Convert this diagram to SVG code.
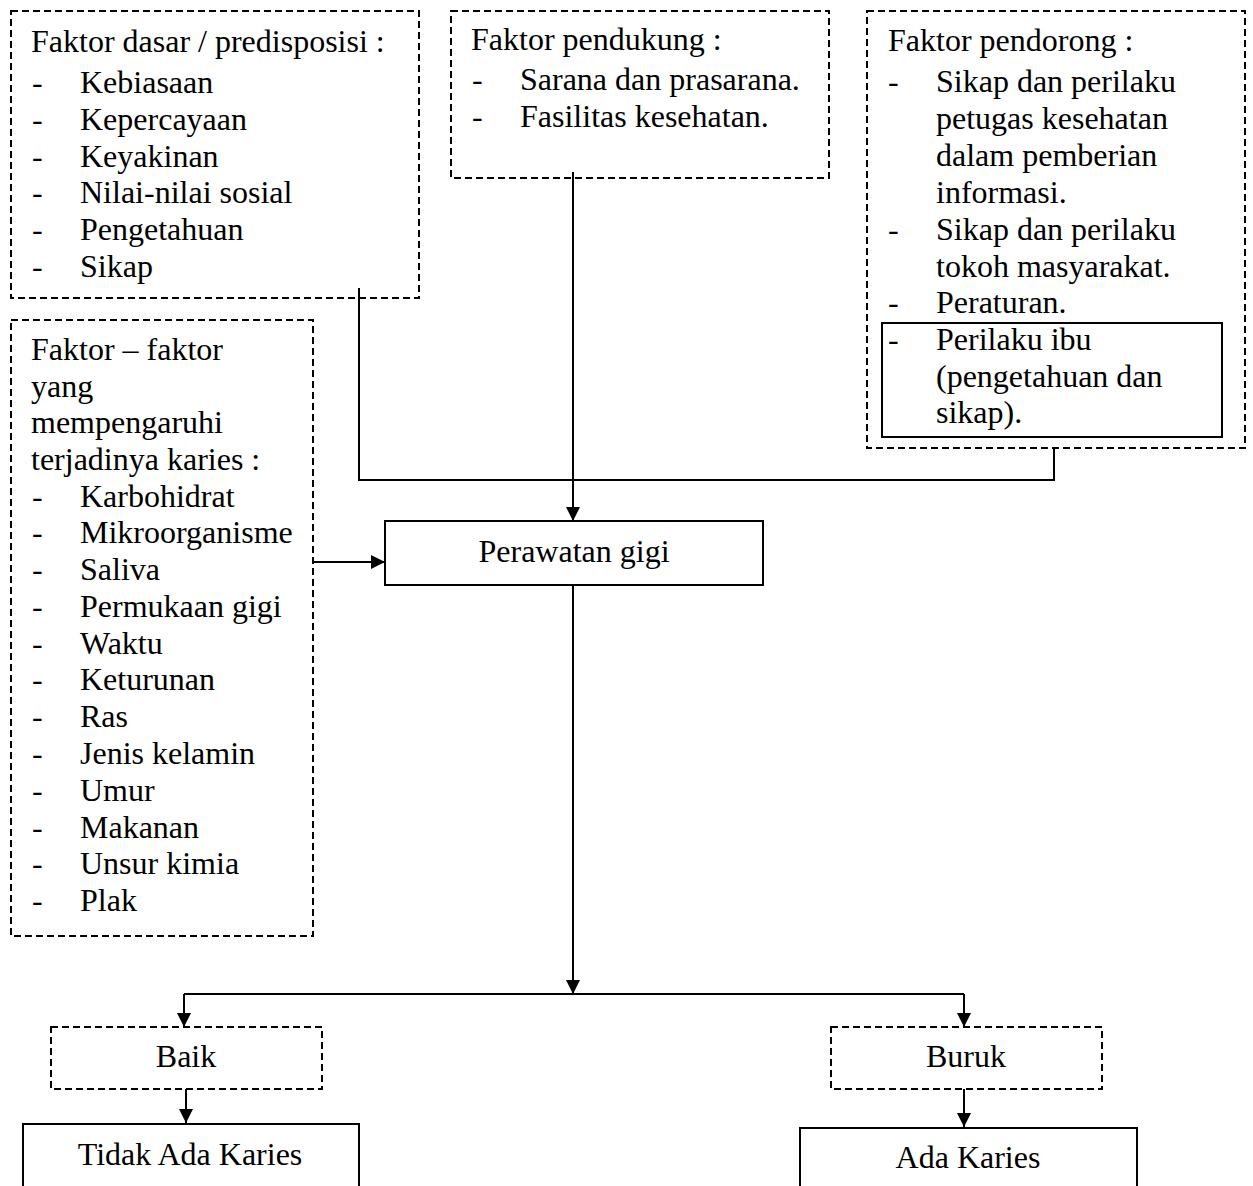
<svg xmlns="http://www.w3.org/2000/svg" width="1253" height="1186" viewBox="0 0 1253 1186">
<style>
text { font-family: "Liberation Serif", "Times New Roman", serif; font-size: 32px; fill: #000; }
.c { text-anchor: middle; }
.dbox { fill: none; stroke: #000; stroke-width: 2; stroke-dasharray: 7 4; }
.sbox { fill: none; stroke: #000; stroke-width: 2; }
.conn { fill: none; stroke: #000; stroke-width: 2; }
</style>
<defs>
<marker id="arr" markerUnits="userSpaceOnUse" markerWidth="14" markerHeight="14" refX="14" refY="7" orient="auto">
<path d="M0,0 L14,7 L0,14 Z" fill="#000"/>
</marker>
</defs>
<rect width="1253" height="1186" fill="#fff"/>

<g id="connectors">
<polyline class="conn" points="359,288 359,480 1054,480 1054,448"/>
<line class="conn" x1="573" y1="172" x2="573" y2="521" marker-end="url(#arr)"/>
<line class="conn" x1="313" y1="562" x2="385" y2="562" marker-end="url(#arr)"/>
<line class="conn" x1="573" y1="585" x2="573" y2="994" marker-end="url(#arr)"/>
<line class="conn" x1="184" y1="994" x2="964" y2="994"/>
<line class="conn" x1="184" y1="994" x2="184" y2="1027" marker-end="url(#arr)"/>
<line class="conn" x1="964" y1="994" x2="964" y2="1027" marker-end="url(#arr)"/>
<line class="conn" x1="186" y1="1089" x2="186" y2="1123" marker-end="url(#arr)"/>
<line class="conn" x1="964" y1="1089" x2="964" y2="1127" marker-end="url(#arr)"/>
</g>

<g id="faktor-dasar">
<rect class="dbox" x="11" y="11" width="408" height="287"/>
<text x="31" y="52">Faktor dasar / predisposisi :</text>
<text x="32" y="93">-</text><text x="80" y="93">Kebiasaan</text>
<text x="32" y="130">-</text><text x="80" y="130">Kepercayaan</text>
<text x="32" y="167">-</text><text x="80" y="167">Keyakinan</text>
<text x="32" y="203">-</text><text x="80" y="203">Nilai-nilai sosial</text>
<text x="32" y="240">-</text><text x="80" y="240">Pengetahuan</text>
<text x="32" y="277">-</text><text x="80" y="277">Sikap</text>
</g>

<g id="faktor-pendukung">
<rect class="dbox" x="451" y="11" width="378" height="167"/>
<text x="471" y="50">Faktor pendukung :</text>
<text x="472" y="90">-</text><text x="520" y="90">Sarana dan prasarana.</text>
<text x="472" y="127">-</text><text x="520" y="127">Fasilitas kesehatan.</text>
</g>

<g id="faktor-pendorong">
<rect class="dbox" x="867" y="11" width="378" height="437"/>
<text x="888" y="51">Faktor pendorong :</text>
<text x="888" y="92">-</text><text x="936" y="92">Sikap dan perilaku</text>
<text x="936" y="129">petugas kesehatan</text>
<text x="936" y="166">dalam pemberian</text>
<text x="936" y="203">informasi.</text>
<text x="888" y="240">-</text><text x="936" y="240">Sikap dan perilaku</text>
<text x="936" y="277">tokoh masyarakat.</text>
<text x="888" y="313">-</text><text x="936" y="313">Peraturan.</text>
<g id="perilaku-ibu">
<rect class="sbox" x="882" y="323" width="340" height="114"/>
<text x="888" y="350">-</text><text x="936" y="350">Perilaku ibu</text>
<text x="936" y="387">(pengetahuan dan</text>
<text x="936" y="423">sikap).</text>
</g>
</g>

<g id="faktor-karies">
<rect class="dbox" x="11" y="320" width="302" height="616"/>
<text x="31" y="360">Faktor – faktor</text>
<text x="31" y="397">yang</text>
<text x="31" y="433">mempengaruhi</text>
<text x="31" y="470">terjadinya karies :</text>
<text x="32" y="507">-</text><text x="80" y="507">Karbohidrat</text>
<text x="32" y="543">-</text><text x="80" y="543">Mikroorganisme</text>
<text x="32" y="580">-</text><text x="80" y="580">Saliva</text>
<text x="32" y="617">-</text><text x="80" y="617">Permukaan gigi</text>
<text x="32" y="654">-</text><text x="80" y="654">Waktu</text>
<text x="32" y="690">-</text><text x="80" y="690">Keturunan</text>
<text x="32" y="727">-</text><text x="80" y="727">Ras</text>
<text x="32" y="764">-</text><text x="80" y="764">Jenis kelamin</text>
<text x="32" y="801">-</text><text x="80" y="801">Umur</text>
<text x="32" y="838">-</text><text x="80" y="838">Makanan</text>
<text x="32" y="874">-</text><text x="80" y="874">Unsur kimia</text>
<text x="32" y="911">-</text><text x="80" y="911">Plak</text>
</g>

<g id="perawatan-gigi">
<rect class="sbox" x="385" y="521" width="378" height="64"/>
<text class="c" x="574" y="562">Perawatan gigi</text>
</g>

<g id="baik">
<rect class="dbox" x="51" y="1027" width="271" height="62"/>
<text class="c" x="186" y="1067">Baik</text>
</g>

<g id="buruk">
<rect class="dbox" x="831" y="1027" width="271" height="62"/>
<text class="c" x="966" y="1067">Buruk</text>
</g>

<g id="tidak-ada-karies">
<rect class="sbox" x="23" y="1124" width="336" height="80"/>
<text class="c" x="190" y="1165">Tidak Ada Karies</text>
</g>

<g id="ada-karies">
<rect class="sbox" x="800" y="1128" width="337" height="80"/>
<text class="c" x="968" y="1168">Ada Karies</text>
</g>
</svg>
